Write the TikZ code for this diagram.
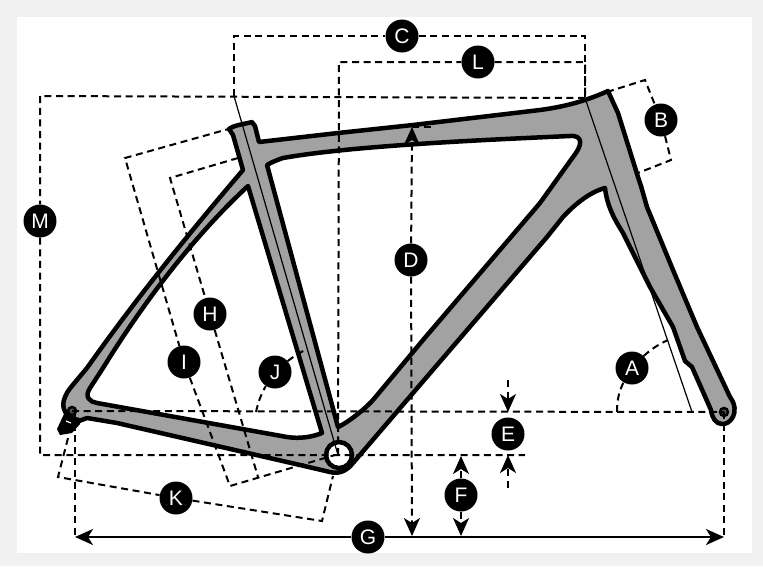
\documentclass[tikz,border=0pt]{standalone}
\usepackage{fontspec}
\setmainfont{Liberation Sans}
\usetikzlibrary{arrows.meta}

\tikzset{
  badge/.style={circle,fill=black,text=white,minimum size=33pt,inner sep=0pt,
    font=\fontsize{21}{21}\selectfont},
  dimline/.style={dashed,dash pattern=on 7pt off 4.6pt,line width=2pt},
  axisline/.style={line width=1.2pt},
  frameline/.style={draw=black,fill=framegrey,line width=4.5pt,line join=round},
  tipline/.style={-{Stealth[length=18pt,width=16pt,inset=5pt]}}
}
\definecolor{framegrey}{HTML}{A2A2A2}
\definecolor{pagegrey}{HTML}{F1F1F1}

\begin{document}
\begin{tikzpicture}[x=1pt,y=-1pt]
  \useasboundingbox (0,0) rectangle (763,566);
  \fill[pagegrey] (0,0) rectangle (763,566);
  \fill[white] (17,17) rectangle (752,553);

  % frame, the two triangles are holes
  \path[frameline,even odd rule]
    (229,129) .. controls (234,125) and (245,124) .. (252,122) -- (255,126) -- (259,142)
    -- (338,133) -- (413,125) -- (540,110) .. controls (570,106) and (590,99) .. (608,91)
    -- (618,113) -- (638,177) -- (641,186) -- (647,207) -- (673,270) -- (697,327) -- (730,397)
    .. controls (741,412) and (730,425) .. (722,424) .. controls (716,424) and (712,418) .. (711,410)
    -- (692,367) -- (685,361) -- (673,327) -- (650,287) -- (623,233)
    .. controls (613,217) and (607,205) .. (605,188)
    .. controls (590,192) and (575,204) .. (563,217) -- (547,237) -- (413,393) -- (353,463)
    .. controls (346,472) and (338,474) .. (330,472) -- (300,465) -- (213,445) -- (117,423)
    -- (87,418) -- (79,421) .. controls (66,418) and (60,408) .. (65,397)
    .. controls (67,391) and (72,386) .. (87,368)
    .. controls (135,300) and (190,232) .. (243,170) -- (233,135) -- cycle
    (248,186) -- (322,433) .. controls (312,437) and (300,439) .. (287,437) -- (97,403)
    .. controls (90,402) and (84,397) .. (90,388) -- (103,368)
    .. controls (145,300) and (195,235) .. (248,186) -- cycle
    (267,165) -- (338,427) .. controls (345,424) and (362,412) .. (373,400) -- (423,340) -- (540,203) -- (573,157)
    .. controls (582,146) and (584,135) .. (570,136) .. controls (480,140) and (350,146) .. (283,158)
    .. controls (277,160) and (272,162) .. (267,165) -- cycle;

  % bottom bracket, dropouts
  \node[circle,draw=black,fill=white,line width=4.5pt,minimum size=26pt,inner sep=0pt] (bb) at (339,455) {};
  \node[circle,draw=black,fill=framegrey!50!black,line width=2.5pt,minimum size=8pt,inner sep=0pt] (rear) at (72,411) {};
  \node[circle,draw=black,fill=framegrey!50!black,line width=2.5pt,minimum size=8pt,inner sep=0pt] (front) at (724,412) {};
  \fill[black,line join=round] (64,414) -- (57,429) -- (60,435) -- (72,433) -- (80,424) -- (80,418) -- cycle;
  \draw[white,line width=1.2pt] (66,421) -- (71,423);

  % letters
  \foreach \name/\px/\py in {A/632/368,B/661/120,C/402/36,D/411/260,E/508/434,F/461/495,G/368/537,
    H/210/314,I/184/362,J/275/372,K/176/498,L/478/62,M/40/221}
    \node[badge] (\name) at (\px,\py) {\name};

  % free ends of the lines
  \foreach \name/\px/\py in {ctl/234/36,ctr/585/36,hdtop/585/98,ltl/339/62,ltr/585/62,
    mtl/40/96,mbl/40/455,ebr/525/455,
    bone/607/92,btwo/645/80,bthree/671/160,bfour/638/173,
    dtop/412/127,dbot/412/536,dside/432/127,
    aone/617/412,atwo/668/340,
    etop/508/380,etiptop/508/412,ebot/508/488,etipbot/508/455,
    ftop/461/456,fbot/461/536,
    gl/75/537,gr/724/537,gtl/75/412,
    hone/238/158,htwo/170/178,hthree/258/477,
    ione/232/128,itwo/125/158,ithree/230/486,ifour/335/455,
    jone/256/412,jtwo/307/349,
    kone/68/438,ktwo/58/477,kthree/322/521,kfour/333/476,
    axone/692/412,seatone/234/96,seattwo/338/455}
    \coordinate (\name) at (\px,\py);

  % axes of the two tubes
  \draw[axisline] (hdtop) -- (axone);
  \draw[axisline] (seatone) -- (seattwo);

  \draw[dimline] (seatone) -- (ctl) -- (C) -- (ctr) -- (hdtop);
  \draw[dimline] (seattwo) -- (ltl) -- (L) -- (ltr) -- (hdtop);
  \draw[dimline] (hdtop) -- (mtl) -- (M) -- (mbl) -- (ebr);
  \draw[dimline] (bone) -- (btwo) -- (B) -- (bthree) -- (bfour);
  \draw[dimline] (rear.center) -- (front.center);
  \draw[dimline] (dtop) -- (dside);
  \draw[dimline] (aone) to[bend left=12] (A);
  \draw[dimline] (A) to[bend left=8] (atwo);
  \draw[dimline] (hone) -- (htwo) -- (H) -- (hthree);
  \draw[dimline] (ione) -- (itwo) -- (I) -- (ithree) -- (ifour);
  \draw[dimline] (jone) to[bend left=8] (J);
  \draw[dimline] (J) to[bend left=5] (jtwo);
  \draw[dimline] (kone) -- (ktwo) -- (K) -- (kthree) -- (kfour);
  \draw[dimline] (gtl) -- (gl);
  \draw[dimline] (front.center) -- (gr);

  % arrows
  \draw[dimline,tipline] (D) -- (dtop);
  \draw[dimline,tipline] (D) -- (dbot);
  \draw[dimline,tipline] (etop) -- (etiptop);
  \draw[dimline,tipline] (ebot) -- (etipbot);
  \draw[dimline,tipline] (F) -- (ftop);
  \draw[dimline,tipline] (F) -- (fbot);
  \draw[line width=2.2pt,tipline] (G) -- (gl);
  \draw[line width=2.2pt,tipline] (G) -- (gr);
\end{tikzpicture}
\end{document}
